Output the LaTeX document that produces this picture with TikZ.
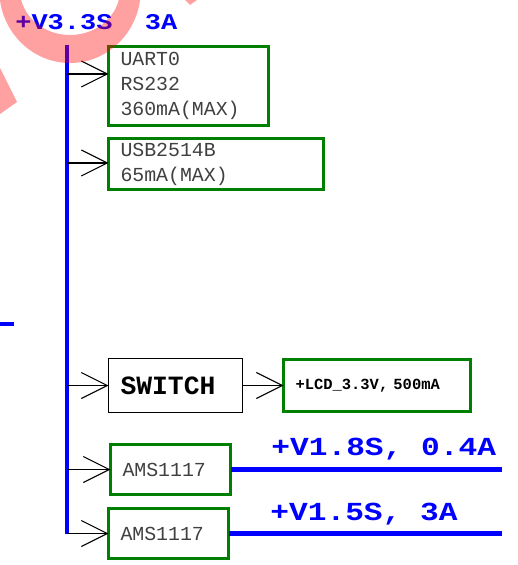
\documentclass[tikz,border=0pt]{standalone}
\usepackage{fontspec}
\newfontfamily\schfont{Liberation Mono}
\newfontfamily\netfont{Liberation Mono}[FakeStretch=1.2]
\usetikzlibrary{arrows.meta}
\definecolor{boxgreen}{RGB}{0,128,0}
\definecolor{partgray}{RGB}{64,64,64}

\begin{document}
\begin{tikzpicture}[
  part/.style={draw=boxgreen, line width=1.7pt, outer sep=0pt, inner xsep=0.24cm, inner ysep=0pt, align=left, text=partgray, font=\schfont\fontsize{11.3}{14.2}\selectfont},
  switchbox/.style={draw, line width=0.6pt, outer sep=0pt, inner xsep=0.24cm, inner ysep=0pt, align=left, font=\schfont\bfseries\fontsize{15}{18}\selectfont},
  net/.style={anchor=base west, inner sep=0pt, text=blue, font=\netfont\bfseries\fontsize{14.8}{17}\selectfont},
  bus/.style={blue, line width=2.3pt},
  feed/.style={-{Straight Barb[length=5.2mm, width=5.2mm]}, line width=0.6pt},
  wmark/.style={fill=red, fill opacity=0.37}
]
\useasboundingbox (0,0) rectangle (10.34,-11.30);

\node[net, font=\netfont\bfseries\fontsize{12.8}{15}\selectfont] (vin) at (0.30,-0.60) {+V3.3S\ \ 3A};
\node[part, text width=2.72cm, minimum height=1.58cm] (uart) at (3.77,-1.72) {UART0\\RS232\\360mA(MAX)};
\node[part, text width=3.82cm, minimum height=1.02cm] (usb) at (4.32,-3.28) {USB2514B\\65mA(MAX)};
\node[switchbox, text width=2.20cm, minimum height=1.08cm] (sw) at (3.51,-7.71) {SWITCH};
\node[part, text=black, font=\schfont\bfseries\fontsize{8.8}{10}\selectfont, text width=3.26cm, minimum height=1.04cm] (lcd) at (7.54,-7.71) {+LCD\_3.3V, 500mA};
\node[part, text width=1.92cm, minimum height=1.0cm] (ams1) at (3.41,-9.39) {AMS1117};
\node[part, text width=1.92cm, minimum height=1.0cm] (ams2) at (3.37,-10.67) {AMS1117};
\node[net] (v18) at (5.42,-9.10) {+V1.8S, 0.4A};
\node[net] (v15) at (5.40,-10.40) {+V1.5S, 3A};

\coordinate (top) at (1.34,-0.90);
\coordinate (t1) at (1.34,-1.48);
\coordinate (t2) at (1.34,-3.26);
\coordinate (t3) at (1.34,-7.71);
\coordinate (t4) at (1.34,-9.39);
\coordinate (t5) at (1.34,-10.67);
\coordinate (o1) at (10.04,-9.39);
\coordinate (o2) at (10.04,-10.67);
\coordinate (cutL) at (0,-6.48);
\coordinate (cutR) at (0.28,-6.48);

\draw[bus] (top) -- (t5);
\draw[bus] (cutL) -- (cutR);
\draw[feed] (t1) -- (t1 -| uart.west);
\draw[feed] (t2) -- (t2 -| usb.west);
\draw[feed] (t3) -- (sw.west);
\draw[feed] (sw.east) -- (lcd.west);
\draw[feed] (t4) -- (ams1.west);
\draw[feed] (t5) -- (ams2.west);
\draw[bus] (ams1.east) -- (o1);
\draw[bus] (ams2.east) -- (o2);

\begin{scope}
\clip (0,0) rectangle (10.34,-11.30);
\fill[wmark, even odd rule] (1.40,0.20) ellipse [x radius=1.414, y radius=1.46] (1.40,0.20) ellipse [x radius=1.0, y radius=0.9];
\fill[wmark] (0,-1.36) -- (0.34,-2.04) -- (0,-2.28) -- cycle;
\fill[wmark] (3.70,0) -- (3.94,0) -- (3.80,-0.10) -- cycle;
\end{scope}
\end{tikzpicture}
\end{document}
